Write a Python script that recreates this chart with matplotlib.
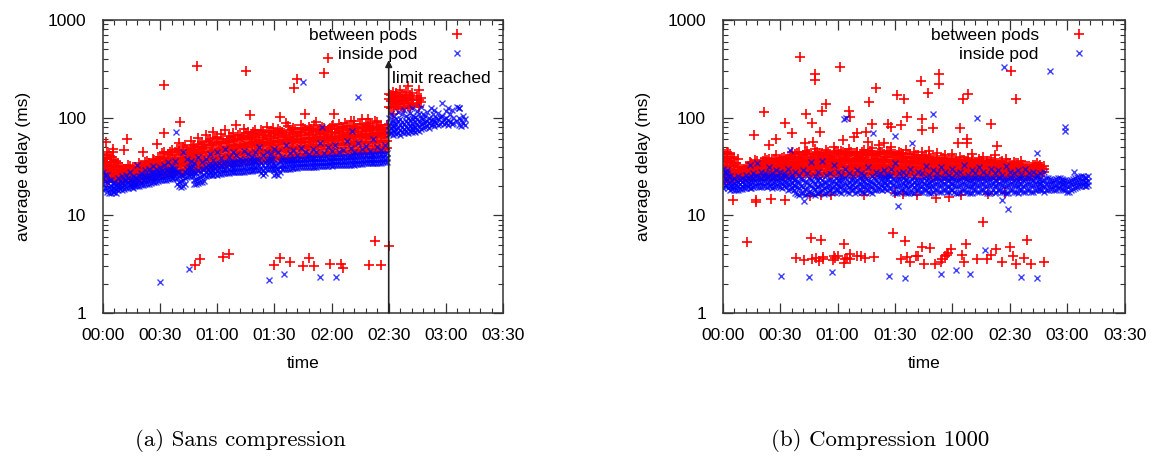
import matplotlib
matplotlib.use("Agg")
import matplotlib.pyplot as plt
from matplotlib.ticker import MultipleLocator, FuncFormatter, LogLocator, NullFormatter

# ---------------- data (minutes, ms) ----------------
series_names = ["between pods", "inside pod"]
x_tick_labels = ["00:00", "00:30", "01:00", "01:30", "02:00", "02:30", "03:00", "03:30"]
captions = ["(a) Sans compression", "(b) Compression 1000"]

# Panel (a) - between pods, dense band rows: (time, delays...)
p1_red_band = [
    (0, 24, 30, 36, 42, 27), (2, 22, 28, 33, 39, 45), (4, 25, 31, 35, 40, 28), (6, 23, 27, 30, 37, 33),
    (8, 22, 25, 29, 34, 26), (10, 23, 26, 28, 31, 24), (12, 24, 27, 30, 25, 29), (14, 23, 26, 28, 32, 25),
    (16, 24, 27, 29, 26, 31), (18, 22, 25, 28, 30, 27), (20, 24, 27, 30, 33, 26), (22, 25, 28, 31, 35, 29),
    (24, 24, 28, 30, 34, 27), (26, 26, 29, 33, 38, 31), (28, 25, 29, 32, 36, 30), (30, 27, 31, 35, 40, 33),
    (32, 26, 30, 34, 39, 45), (34, 28, 32, 36, 42, 30), (36, 27, 31, 35, 41, 47), (38, 28, 33, 37, 44, 31),
    (40, 29, 34, 39, 46, 55), (42, 27, 32, 38, 43, 50), (44, 29, 35, 40, 47, 33), (46, 30, 35, 41, 48, 58),
    (48, 28, 34, 39, 45, 52), (50, 31, 36, 42, 50, 62), (52, 30, 37, 43, 49, 56), (54, 32, 38, 44, 52, 66),
    (56, 31, 37, 45, 53, 60), (58, 33, 39, 46, 55, 72), (60, 32, 38, 45, 54, 63), (62, 34, 40, 47, 56, 68),
    (64, 33, 39, 46, 55, 75), (66, 35, 41, 48, 57, 65), (68, 34, 40, 47, 58, 70), (70, 36, 42, 49, 59, 85),
    (72, 35, 41, 50, 60, 67), (74, 37, 43, 51, 61, 76), (76, 36, 42, 50, 62, 72), (78, 37, 44, 52, 60, 68),
    (80, 38, 45, 53, 64, 74), (82, 36, 43, 51, 59, 66), (84, 38, 46, 54, 63, 71), (86, 37, 44, 52, 61, 80),
    (88, 39, 47, 55, 65, 73), (90, 38, 45, 53, 62, 69), (92, 40, 47, 56, 66, 77), (94, 38, 46, 54, 63, 72),
    (96, 40, 48, 57, 67, 88), (98, 39, 47, 55, 64, 74), (100, 41, 49, 58, 68, 78), (102, 40, 48, 56, 65, 71),
    (104, 42, 50, 59, 69, 84), (106, 41, 49, 57, 66, 75), (108, 42, 51, 60, 70, 80), (110, 41, 50, 58, 67, 73),
    (112, 43, 52, 61, 71, 90), (114, 42, 50, 59, 68, 76), (116, 43, 52, 60, 70, 79), (118, 42, 51, 59, 67, 74),
    (120, 44, 53, 62, 72, 82), (122, 43, 52, 60, 69, 77), (124, 45, 54, 63, 73, 86), (126, 44, 52, 61, 70, 78),
    (128, 45, 55, 64, 74, 83), (130, 44, 53, 62, 71, 92), (132, 46, 55, 64, 75, 80), (134, 45, 54, 63, 72, 79),
    (136, 46, 56, 65, 76, 98), (138, 45, 55, 63, 73, 84), (140, 47, 57, 66, 77, 88), (142, 46, 55, 64, 74, 81),
    (144, 47, 57, 67, 78, 90), (146, 46, 56, 65, 75, 85), (148, 48, 58, 68, 79, 70),
    (150, 130, 155, 175), (151, 125, 148, 170), (152, 140, 160, 185), (153, 128, 150, 165),
    (154, 135, 158, 178), (155, 122, 145, 168), (156, 138, 162, 190), (157, 130, 152, 172),
    (158, 127, 148, 165), (159, 140, 160, 182), (160, 132, 155, 210), (161, 125, 150, 170),
    (162, 138, 158, 180), (163, 135, 152), (165, 140, 165), (166, 130, 150, 190), (167, 145, 160),
]
p1_red_band_odd = [
    (1, 25, 29, 34, 38), (3, 23, 27, 32, 41), (5, 24, 29, 35, 44), (7, 22, 26, 31, 36), (9, 23, 25.5, 28, 32),
    (11, 22.5, 25, 27, 30), (13, 23.5, 26, 28.5, 33), (15, 24, 26.5, 29, 27.5), (17, 23, 25, 28, 31),
    (19, 24, 26, 29, 34), (21, 23.5, 26.5, 29.5, 32), (23, 24.5, 27, 30, 36), (25, 25, 28.5, 31, 33),
    (27, 25.5, 28, 32, 37), (29, 26, 30, 33, 38), (31, 26.5, 30, 34, 43), (33, 27, 31, 35, 38),
    (35, 27.5, 32, 36, 44), (37, 26.5, 30.5, 34, 39), (39, 28.5, 33, 38, 48), (41, 28, 33, 37, 42),
    (43, 28.5, 34, 39, 52), (45, 29.5, 34, 40, 45), (47, 29, 35, 41, 50), (49, 30, 36, 42, 47),
    (51, 30.5, 35.5, 43, 54), (53, 31, 37, 44, 50), (55, 31.5, 38, 45, 58), (57, 32, 38, 46, 53),
    (59, 32.5, 39, 47, 62), (61, 33, 40, 48, 56), (63, 33.5, 40, 49, 60), (65, 34, 41, 50, 58),
    (67, 34.5, 42, 51, 64), (69, 35, 42, 52, 61), (71, 35.5, 43, 52, 66), (73, 36, 44, 53, 63),
    (75, 36, 44, 54, 70), (77, 37, 45, 55, 65), (79, 37.5, 46, 56, 72), (81, 37, 45, 54, 68),
    (83, 38, 46, 56, 75), (85, 38.5, 47, 57, 66), (87, 38, 46, 55, 70), (89, 39, 48, 58, 78),
    (91, 39.5, 47, 57, 68), (93, 39, 48, 58, 73), (95, 40, 49, 59, 70), (97, 40.5, 49, 60, 82),
    (99, 40, 48, 58, 71), (101, 41, 50, 60, 76), (103, 41.5, 50, 61, 72), (105, 41, 51, 60, 79),
    (107, 42, 51, 62, 74), (109, 42.5, 52, 61, 77), (111, 42, 51, 62, 84), (113, 43, 52, 63, 75),
    (115, 43.5, 53, 63, 80), (117, 43, 52, 62, 73), (119, 44, 53, 64, 78), (121, 44.5, 54, 64, 85),
    (123, 44, 53, 63, 76), (125, 45, 54, 65, 80), (127, 45.5, 55, 66, 88), (129, 45, 54, 65, 77),
    (131, 46, 55, 66, 82), (133, 46.5, 56, 67, 79), (135, 46, 55, 66, 86), (137, 47, 56, 68, 80),
    (139, 47.5, 57, 67, 83), (141, 47, 56, 68, 78), (143, 48, 57, 69, 92), (145, 48.5, 58, 69, 81),
    (147, 48, 57, 68, 76), (149, 49, 58, 70, 84),
]
p1_red_out_t = [49.4, 32.2, 75.1, 118.1, 115.9, 101.9, 100.1, 121.1, 105.9, 93.1, 77.0, 139.0, 132.0,
                40.6, 31.9, 12.6, 1.4, 5.2, 28.4, 11.2, 21.0, 152.0,
                48.1, 51.1, 63.2, 66.2, 90.0, 92.9, 98.0, 105.0, 108.2, 111.0, 119.0, 124.8, 126.0,
                139.8, 145.8, 142.8, 150.0]
p1_red_out_v = [340, 217, 303, 405, 284, 251, 201, 110, 110, 102, 106, 96, 92,
                90, 69, 60, 57, 48, 54, 47, 45, 110,
                3.1, 3.6, 3.75, 4.0, 3.1, 3.7, 3.3, 3.0, 3.65, 3.05, 3.15, 3.2, 2.9,
                3.1, 3.1, 5.4, 4.9]

# Panel (a) - inside pod
p1_blue_band = [
    (0, 18, 21, 24, 28), (2, 17.5, 19, 22, 26), (4, 17, 18.5, 20, 23), (6, 17.5, 19, 21, 22),
    (8, 18, 19.5, 21, 24), (10, 18, 20, 22, 25), (12, 19, 21, 23, 26), (14, 19.5, 21, 23, 28),
    (16, 19, 20.5, 22, 25), (18, 20, 22, 24, 33), (20, 20.5, 22, 25, 27), (22, 21, 23, 25, 29),
    (24, 21, 23.5, 26, 30), (26, 22, 24, 27, 32), (28, 22, 24.5, 27, 30), (30, 23, 25, 28, 31),
    (32, 23, 25.5, 28, 33), (34, 23.5, 26, 29, 35), (36, 24, 26.5, 29, 32), (38, 24, 27, 30, 36),
    (40, 20, 22, 25, 28), (42, 20, 23, 26, 45), (44, 24.5, 27, 30, 38), (46, 25, 28, 31, 36),
    (48, 21, 23, 28, 34), (50, 21.5, 24, 29, 40), (52, 22, 25, 30, 35), (54, 25.5, 28, 31, 38),
    (56, 26, 28.5, 32, 42), (58, 26, 29, 32, 37), (60, 26, 29, 33, 44), (62, 26.5, 29.5, 33, 39),
    (64, 27, 30, 34, 48), (66, 27, 30, 34, 40), (68, 27.5, 30.5, 35, 45), (70, 28, 31, 35, 41),
    (72, 28, 31, 35, 38), (74, 28, 31.5, 36, 46), (76, 28.5, 32, 36, 42), (78, 28.5, 32, 36, 40),
    (80, 29, 32, 37, 44), (82, 29, 32.5, 37, 50), (84, 26, 29, 33, 41), (86, 29.5, 33, 37, 45),
    (88, 29.5, 33, 38, 42), (90, 26, 29, 33, 48), (92, 26, 30, 34, 44), (94, 30, 33, 37, 40),
    (96, 30, 33.5, 37, 52), (98, 30, 34, 37.5, 43), (100, 30.5, 34, 37.5, 47), (102, 30.5, 34, 37, 41),
    (104, 31, 34.5, 38, 49), (106, 31, 34.5, 38, 44), (108, 31, 35, 38.5, 42), (110, 31.5, 35, 38.5, 48),
    (112, 31.5, 35, 39, 45), (114, 32, 35, 39, 55), (116, 32, 35.5, 39, 43), (118, 32, 35.5, 39, 50),
    (120, 32, 36, 39.5, 46), (122, 32.5, 36, 39.5, 52), (124, 32.5, 36, 40, 44), (126, 33, 36, 40, 47),
    (128, 33, 36.5, 40, 58), (130, 33, 36.5, 40.5, 49), (132, 33, 37, 40.5, 45), (134, 33.5, 37, 41, 55),
    (136, 33.5, 37, 41, 48), (138, 34, 37, 41, 51), (140, 34, 37.5, 41.5, 46), (142, 34, 38, 41.5, 60),
    (144, 34, 38, 42, 50), (146, 34.5, 38, 42, 47), (148, 35, 38, 42, 52),
    (150, 68, 75, 85, 100), (151, 70, 78, 90, 110), (152, 66, 74, 82, 95), (153, 72, 80, 88, 105),
    (154, 68, 76, 86, 98), (155, 70, 79, 92, 115), (156, 67, 75, 84, 96), (157, 71, 80, 90, 108),
    (158, 69, 77, 87, 120), (159, 72, 81, 93, 104), (160, 70, 78, 88, 100), (161, 73, 82, 95, 112),
    (162, 71, 79, 89, 125), (163, 74, 83, 96, 105), (164, 72, 80, 90, 102), (165, 75, 84, 98, 118),
    (166, 73, 82, 92, 108), (167, 76, 86, 100, 130), (168, 78, 88, 97, 110), (169, 80, 90, 104),
    (170, 82, 92, 115), (171, 79, 88, 100), (172, 84, 95, 125), (173, 86, 98, 108), (174, 83, 93, 120),
    (175, 88, 100), (176, 85, 96, 112), (177, 87, 102), (178, 90, 105, 140), (179, 86, 98),
    (180, 88, 100, 118), (181, 85, 95, 125), (182, 90, 108), (183, 86, 120), (184, 88, 100),
    (186, 92, 130), (187, 85, 100, 125), (188, 82, 95), (189, 88, 105), (190, 85, 97),
]
p1_blue_band_odd = [
    (1, 19, 22.5, 26), (3, 17, 19.5, 23), (5, 17.5, 19, 21.5), (7, 17, 18.5, 20.5), (9, 18.5, 20, 22.5),
    (11, 18.5, 20.5, 23), (13, 19, 21.5, 24), (15, 19.5, 21.5, 23.5), (17, 20, 21.5, 24), (19, 20, 22.5, 25),
    (21, 20.5, 23, 25.5), (23, 21, 23.5, 26), (25, 21.5, 24, 27), (27, 22, 24.5, 27.5), (29, 22.5, 25, 28),
    (31, 23, 25.5, 28.5), (33, 23, 26, 29), (35, 23.5, 26.5, 29.5), (37, 24, 27, 30), (39, 21, 24, 28),
    (41, 19.5, 22.5, 26), (43, 21, 24, 27.5), (45, 25, 27.5, 31), (47, 25, 28, 32), (49, 21, 23.5, 27),
    (51, 22, 24.5, 28), (53, 22.5, 26, 30), (55, 26, 29, 32.5), (57, 26, 29, 33), (59, 26.5, 29.5, 33.5),
    (61, 26.5, 30, 34), (63, 27, 30, 34.5), (65, 27, 30.5, 35), (67, 27.5, 31, 35), (69, 28, 31, 35.5),
    (71, 28, 31.5, 36), (73, 28, 31.5, 36), (75, 28.5, 32, 36.5), (77, 28.5, 32, 37), (79, 29, 32.5, 37),
    (81, 29, 33, 37.5), (83, 27, 30, 34), (85, 27, 30.5, 35), (87, 29.5, 33.5, 38), (89, 29.5, 33.5, 38),
    (91, 26.5, 29.5, 33), (93, 28, 31.5, 36), (95, 30, 33, 36.5), (97, 30, 33.5, 37), (99, 30.5, 34, 37),
    (101, 30.5, 34, 37.5), (103, 31, 34.5, 38), (105, 31, 34.5, 38), (107, 31, 35, 38.5), (109, 31.5, 35, 38.5),
    (111, 31.5, 35, 39), (113, 32, 35.5, 39), (115, 32, 35.5, 39), (117, 32, 35.5, 39.5), (119, 32.5, 36, 39.5),
    (121, 32.5, 36, 40), (123, 32.5, 36, 40), (125, 33, 36.5, 40), (127, 33, 36.5, 40.5), (129, 33, 36.5, 40.5),
    (131, 33.5, 37, 41), (133, 33.5, 37, 41), (135, 33.5, 37, 41), (137, 34, 37.5, 41.5), (139, 34, 37.5, 41.5),
    (141, 34, 37.5, 42), (143, 34.5, 38, 42), (145, 34.5, 38, 42), (147, 35, 38.5, 42.5), (149, 35, 38.5, 43),
]
p1_blue_out_t = [105.0, 134.0, 38.2, 115.0, 130.6, 187.0,
                 30.1, 45.2, 87.2, 95.0, 114.1, 122.2]
p1_blue_out_v = [230, 161, 72, 80, 73, 125,
                 2.1, 2.8, 2.2, 2.5, 2.35, 2.33]

# Panel (b) - between pods
p2_red_band = [
    (0, 22, 27, 33, 40, 45), (2, 23, 26, 31, 38, 44), (4, 24, 28, 34, 42, 36), (6, 23, 26, 29, 33, 40),
    (8, 24, 26, 28, 31, 38), (10, 24, 26, 28, 30, 27), (12, 25, 27, 29, 31, 26), (14, 24, 26, 28, 30, 35),
    (16, 25, 27, 29, 32, 28), (18, 25, 27, 30, 33, 36), (20, 25, 28, 31, 34, 29), (22, 26, 28, 31, 35, 39),
    (24, 25, 28, 30, 34, 38), (26, 26, 29, 32, 36, 30), (28, 25, 28, 31, 35, 41), (30, 26, 29, 32, 37, 34),
    (32, 25, 28, 31, 36, 40), (34, 26, 29, 33, 38, 30), (36, 27, 30, 34, 39, 44), (38, 26, 29, 33, 38, 42),
    (40, 27, 30, 34, 40, 45), (42, 26, 30, 35, 41, 32), (44, 27, 31, 35, 42, 46), (46, 26, 30, 34, 40, 37),
    (48, 27, 31, 36, 42, 48), (50, 26, 30, 35, 41, 33), (52, 27, 32, 36, 43, 40), (54, 27, 31, 35, 42, 47),
    (56, 26, 30, 35, 41, 38), (58, 27, 31, 36, 43, 50), (60, 27, 32, 37, 44, 34), (62, 26, 31, 36, 42, 46),
    (64, 27, 32, 37, 43, 39), (66, 27, 31, 36, 42, 48), (68, 26, 30, 35, 41, 33), (70, 27, 32, 37, 44, 45),
    (72, 27, 31, 36, 42, 39), (74, 26, 30, 35, 41, 47), (76, 27, 32, 37, 43, 34), (78, 27, 31, 36, 42, 49),
    (80, 26, 30, 35, 41, 38), (82, 27, 32, 37, 44, 45), (84, 27, 31, 36, 42, 35), (86, 26, 30, 35, 40, 46),
    (88, 27, 32, 37, 43, 50), (90, 27, 31, 36, 42, 33), (92, 26, 30, 35, 41, 44), (94, 27, 31, 36, 42, 38),
    (96, 26, 30, 35, 40, 47), (98, 27, 31, 36, 42, 34), (100, 26, 30, 34, 40, 44), (102, 27, 31, 35, 41, 37),
    (104, 26, 30, 34, 39, 45), (106, 27, 30, 35, 41, 33), (108, 26, 29, 34, 40, 46), (110, 26, 30, 34, 39, 36),
    (112, 25, 29, 33, 38, 43), (114, 26, 30, 34, 39, 35), (116, 25, 29, 33, 38, 41), (118, 26, 29, 33, 38, 31),
    (120, 25, 28, 32, 37, 42), (122, 26, 29, 33, 37, 35), (124, 25, 28, 32, 36, 40), (126, 26, 29, 32, 37, 30),
    (128, 25, 28, 32, 36, 39), (130, 26, 29, 32, 36, 42), (132, 25, 28, 31, 35, 33), (134, 26, 29, 32, 36, 38),
    (136, 25, 28, 31, 35, 40), (138, 26, 29, 32, 36, 34), (140, 25, 28, 31, 35, 37), (142, 26, 29, 32, 36, 41),
    (144, 25, 28, 31, 34, 30), (146, 26, 28, 31, 35, 36), (148, 25, 28, 30, 34, 38), (150, 26, 28, 31, 34, 32),
    (152, 25, 28, 30, 33, 35), (154, 26, 28, 31, 34, 29), (156, 25, 27, 30, 33, 36), (158, 26, 28, 30, 32),
    (160, 25, 27, 29, 32), (162, 26, 28, 30, 33), (164, 27, 29, 31, 34), (166, 27, 29, 31, 33), (168, 28, 30, 32),
]
p2_red_band_odd = [
    (1, 23, 28, 35, 42), (3, 24, 29, 36, 43), (5, 23, 27, 32, 39), (7, 24, 26.5, 29, 34), (9, 24.5, 26, 28.5, 31),
    (11, 24, 26.5, 29, 30), (13, 24.5, 27, 28.5, 32), (15, 25, 27, 29.5, 34), (17, 24.5, 27.5, 30, 37),
    (19, 25, 28, 31, 33), (21, 25.5, 28.5, 32, 36), (23, 25, 28, 31.5, 37), (25, 26, 29, 32, 35),
    (27, 25.5, 28.5, 33, 38), (29, 26, 29.5, 33, 36), (31, 25.5, 29, 32.5, 39), (33, 26, 30, 34, 37),
    (35, 26.5, 30.5, 35, 41), (37, 26, 30, 34.5, 40), (39, 27, 31, 35, 43), (41, 26.5, 31, 36, 39),
    (43, 27, 31.5, 36.5, 44), (45, 26.5, 31, 35.5, 42), (47, 27, 32, 37, 40), (49, 26.5, 31.5, 36, 45),
    (51, 27, 32, 37.5, 43), (53, 26.5, 31, 36, 41), (55, 27.5, 32.5, 38, 44), (57, 26.5, 31, 36.5, 40),
    (59, 27, 32, 37, 46), (61, 27.5, 32.5, 38, 42), (63, 26.5, 31.5, 36, 44), (65, 27, 32, 37.5, 41),
    (67, 26.5, 31, 36, 45), (69, 27, 32.5, 38, 43), (71, 27.5, 32, 37, 40), (73, 26.5, 31, 36.5, 44),
    (75, 27, 32, 37, 42), (77, 26.5, 31.5, 36.5, 46), (79, 27, 31, 36, 41), (81, 27.5, 32.5, 37.5, 43),
    (83, 26.5, 31, 36, 45), (85, 27, 32, 37, 40), (87, 26.5, 31.5, 36.5, 44), (89, 27, 31, 36, 42),
    (91, 26.5, 31.5, 36.5, 41), (93, 27, 31, 35.5, 43), (95, 26.5, 30.5, 35, 40), (97, 27, 31, 36, 42),
    (99, 26.5, 30.5, 35, 39), (101, 26, 30, 34.5, 41), (103, 26.5, 30.5, 35, 38), (105, 26, 30, 34, 40),
    (107, 26.5, 29.5, 34, 37), (109, 26, 30, 34.5, 39), (111, 25.5, 29.5, 33.5, 38), (113, 26, 29, 33, 37),
    (115, 25.5, 29.5, 33.5, 39), (117, 26, 29, 33, 36), (119, 25.5, 28.5, 32.5, 37), (121, 26, 29, 33, 38),
    (123, 25.5, 28.5, 32, 35), (125, 26, 29, 32.5, 37), (127, 25.5, 28.5, 32, 36), (129, 26, 29, 32.5, 34),
    (131, 25.5, 28.5, 32, 37), (133, 26, 29, 32, 35), (135, 25.5, 28.5, 31.5, 36), (137, 26, 29, 32, 34),
    (139, 25.5, 28.5, 31.5, 36), (141, 26, 29, 32, 35), (143, 25.5, 28.5, 31, 34), (145, 26, 28.5, 31.5, 35),
    (147, 25.5, 28, 31, 33), (149, 26, 28.5, 31, 34), (151, 25.5, 28, 30.5, 33), (153, 26, 28, 30.5, 34),
    (155, 25.5, 27.5, 30, 32), (157, 26, 28, 30.5, 33), (159, 25.5, 27.5, 30, 32), (161, 26, 28, 30, 31),
    (163, 26.5, 28.5, 30.5, 33), (165, 27, 29, 31, 32), (167, 27.5, 29.5, 31.5),
]
p2_red_out_t = [40.3, 48.0, 48.0, 61.2, 80.3, 113.1, 113.1, 103.5, 107.2, 91.2, 94.9, 125.6, 128.4,
                150.5, 153.3, 54.2, 52.1, 66.0, 66.7, 21.6, 43.5, 76.3, 46.4, 32.6, 36.3, 16.2, 28.0,
                24.3, 78.1, 86.6, 87.9, 93.2, 96.4, 103.9, 110.0, 103.9, 123.8, 140.0, 143.1, 127.5,
                127.5, 122.9, 74.6, 68.5, 50.8, 63.0, 70.4, 75.9, 81.4, 84.0, 64.8, 43.1, 47.4,
                5.5, 17.5, 17.5, 25.4, 32.4, 45.5, 51.6, 56.6, 74.0, 90.0, 94.3, 101.7, 111.3,
                118.3, 124.7, 147.7, 138.5,
                12.5, 38.3, 42.5, 46.3, 46.5, 48.7, 50.1, 51.3, 52.2, 52.6, 57.8, 58.1, 58.8, 60.4,
                63.2, 63.4, 63.7, 64.8, 66.3, 66.5, 70.0, 72.2, 74.2, 79.2, 89.1, 93.0, 95.1, 96.1,
                98.0, 101.0, 102.2, 104.1, 105.3, 108.3, 111.1, 113.9, 114.7, 116.1, 117.2, 117.9,
                119.1, 125.2, 126.0, 126.9, 132.8, 135.8, 137.9, 140.0, 142.8, 145.9, 150.1, 151.8,
                153.0, 157.6, 159.1, 161.0, 167.8]
p2_red_out_v = [421, 280, 243, 333, 201, 280, 219, 239, 177, 170, 157, 154, 173,
                298, 157, 138, 117, 117, 102, 115, 108, 146, 89, 89, 70, 67, 61,
                52, 87, 87, 80, 85, 102, 97, 78, 75, 79, 87, 51.5, 61,
                55, 55, 72, 64, 71, 59, 69, 56, 52, 55, 43, 55, 56,
                14.5, 14.5, 13.7, 14.7, 14.2, 15.6, 16.2, 16.0, 16.0, 16.8, 16.5, 16.0, 14.9,
                15.5, 16.0, 17.0, 16.5,
                5.35, 3.7, 3.52, 5.84, 3.55, 3.7, 3.4, 5.56, 3.75, 3.55, 3.52, 3.85, 3.7, 3.85,
                5.1, 3.28, 3.6, 3.7, 4.06, 3.6, 3.85, 3.8, 3.65, 3.75, 6.6, 3.6, 5.5, 3.75,
                3.3, 3.8, 3.8, 4.75, 3.18, 4.6, 3.2, 3.3, 3.6, 3.8, 3.95, 4.1,
                4.5, 3.95, 3.3, 5.1, 3.55, 8.5, 3.55, 3.95, 4.5, 3.3, 4.75, 3.8,
                3.2, 3.65, 5.56, 3.2, 3.3]

# Panel (b) - inside pod
p2_blue_band = [
    (0, 19, 22, 26, 30), (2, 20, 23, 27, 29), (4, 18, 20, 22, 25), (6, 18, 19.5, 21, 24),
    (8, 18, 20, 22, 25), (10, 18.5, 20, 22, 24), (12, 19, 21, 23, 26), (14, 19, 21, 24, 33),
    (16, 19.5, 22, 24, 27), (18, 20, 22, 25, 34), (20, 19.5, 22, 24, 28), (22, 20, 22.5, 25, 27),
    (24, 20, 22, 25, 31), (26, 19, 21.5, 24, 27), (28, 20, 22.5, 25, 29), (30, 19.5, 22, 24, 28),
    (32, 20, 22, 25, 27), (34, 18, 21, 24, 30), (36, 19, 21.5, 24, 26), (38, 17, 20, 23, 28),
    (40, 16, 19, 22, 26), (42, 17, 19.5, 23, 29), (44, 16.5, 19, 22, 27), (46, 17, 20, 23, 35),
    (48, 16, 18.5, 21, 25), (50, 17, 20, 23, 28), (52, 18, 20.5, 23, 36), (54, 17, 19.5, 22, 26),
    (56, 18, 20, 23, 27), (58, 17.5, 20, 22.5, 33), (60, 18, 20.5, 23, 28), (62, 17, 20, 23, 26),
    (64, 18, 21, 24, 30), (66, 17, 19.5, 22, 27), (68, 18, 20.5, 23, 25), (70, 17.5, 20, 23, 29),
    (72, 18, 21, 24, 27), (74, 17, 20, 22.5, 26), (76, 18, 20.5, 23, 31), (78, 17, 19.5, 22, 25),
    (80, 18, 20.5, 23, 28), (82, 18.5, 21, 24, 27), (84, 19, 21.5, 24, 29), (86, 18, 21, 24, 26),
    (88, 19, 22, 25, 30), (90, 17, 20, 23, 34), (92, 17.5, 20.5, 23.5, 27), (94, 18, 21, 24, 28),
    (96, 17, 20, 23, 26), (98, 17.5, 20, 22.5, 30), (100, 17, 19.5, 22, 25), (102, 18, 20.5, 23, 28),
    (104, 17.5, 20, 22.5, 27), (106, 18, 20.5, 23, 32), (108, 17, 19.5, 22, 26), (110, 17.5, 20, 23, 29),
    (112, 18, 21, 24, 27), (114, 17.5, 20.5, 23, 31), (116, 18, 21, 24, 28), (118, 17.5, 20, 23, 26),
    (120, 18, 21, 24, 30), (122, 17, 20, 23, 27), (124, 17.5, 20.5, 23.5, 28), (126, 18, 21, 24, 33),
    (128, 17.5, 20, 23, 26), (130, 17, 20, 23, 29), (132, 18, 21, 24, 27), (134, 17.5, 20.5, 23.5, 31),
    (136, 18, 21, 24, 28), (138, 17, 20, 23, 26), (140, 17.5, 20.5, 23.5, 30), (142, 17, 20, 23, 27),
    (144, 18, 21, 24, 29), (146, 17.5, 20.5, 23, 26), (148, 17, 20, 23, 32), (150, 18, 21, 24, 28),
    (152, 17.5, 20.5, 23, 27), (154, 17, 20, 23, 29), (156, 18, 21, 24, 26), (158, 17.5, 20.5, 23.5, 30),
    (160, 18, 21, 24, 27), (162, 17.5, 20.5, 23, 28), (164, 18, 21, 24, 26), (166, 18, 21, 23.5, 27),
    (168, 17.5, 20, 23, 28), (170, 18, 21, 24), (172, 18.5, 21, 23), (174, 18, 20.5, 23.5),
    (176, 19, 21.5, 24), (178, 18, 21, 23), (180, 17.5, 20, 22.5), (182, 18, 21, 23),
    (184, 19, 21.5, 24), (186, 20, 22, 24.5), (188, 20.5, 22.5, 25), (190, 20, 22, 24),
]
p2_blue_band_odd = [
    (1, 20, 24, 28), (3, 19, 21.5, 25), (5, 18.5, 20, 23), (7, 18, 20.5, 22.5), (9, 18.5, 21, 23),
    (11, 19, 21, 23.5), (13, 19.5, 21.5, 24), (15, 19, 22, 25), (17, 20, 22.5, 25), (19, 19.5, 22, 24.5),
    (21, 20, 22.5, 25.5), (23, 19.5, 22, 24.5), (25, 20, 23, 26), (27, 19.5, 22, 24.5), (29, 20, 22.5, 25.5),
    (31, 19, 21.5, 24), (33, 19.5, 22, 25), (35, 18.5, 21, 23.5), (37, 18, 20.5, 23), (39, 16.5, 19.5, 22.5),
    (41, 17, 20, 23.5), (43, 16, 18.5, 22), (45, 17.5, 20.5, 24), (47, 16.5, 19, 22.5), (49, 17, 19.5, 23),
    (51, 17.5, 20.5, 24), (53, 16.5, 19, 22), (55, 17.5, 20, 23), (57, 17, 19.5, 22.5), (59, 18, 21, 24),
    (61, 17.5, 20, 23), (63, 18, 20.5, 23.5), (65, 17.5, 20.5, 23.5), (67, 18, 20, 23), (69, 17, 19.5, 22.5),
    (71, 18, 21, 24), (73, 17.5, 20, 23), (75, 18, 20.5, 23.5), (77, 17.5, 20, 22.5), (79, 18, 21, 24),
    (81, 18.5, 21.5, 24.5), (83, 18, 21, 24), (85, 18.5, 21.5, 24.5), (87, 19, 22, 25), (89, 17.5, 20.5, 23.5),
    (91, 17, 20, 23), (93, 18, 20.5, 23.5), (95, 17.5, 20.5, 23), (97, 17, 19.5, 22.5), (99, 17.5, 20.5, 23.5),
    (101, 18, 20.5, 23), (103, 17.5, 20, 23), (105, 18, 21, 24), (107, 17.5, 20.5, 23.5), (109, 17, 20, 22.5),
    (111, 18, 21, 24), (113, 17.5, 20.5, 23.5), (115, 18, 21, 24), (117, 17.5, 20, 23), (119, 18, 21, 24),
    (121, 17.5, 20.5, 23.5), (123, 17, 20, 23), (125, 18, 21, 24), (127, 17.5, 20.5, 23.5), (129, 17, 20, 23),
    (131, 18, 21, 24), (133, 17.5, 20.5, 23.5), (135, 18, 21, 24), (137, 17.5, 20, 23), (139, 17, 20.5, 23.5),
    (141, 18, 21, 24), (143, 17.5, 20.5, 23), (145, 18, 21, 24), (147, 17.5, 20, 23), (149, 17, 20.5, 23.5),
    (151, 18, 21, 24), (153, 17.5, 20.5, 23.5), (155, 18, 21, 24), (157, 17.5, 20, 23), (159, 18, 21, 24),
    (161, 17.5, 20.5, 23.5), (163, 18, 21, 24), (165, 18.5, 21, 23.5), (167, 18, 20.5, 23), (169, 18, 21, 24),
    (171, 18.5, 21, 23.5), (173, 18, 20.5, 23), (175, 19, 21.5, 24), (177, 18.5, 21, 23.5), (179, 18, 20.5, 23),
    (181, 17.5, 20, 22.5), (183, 18.5, 21, 23.5), (185, 19.5, 22, 24.5), (187, 20, 22.5, 25), (189, 20, 22, 24.5),
    (191, 20.5, 22.5, 25),
]
p2_blue_out_t = [147.2, 170.8, 179.0, 179.0, 133.0, 64.3, 63.6, 110.0, 78.3, 90.1, 98.9, 35.4, 164.0,
                 145.9, 149.0, 91.6, 42.4, 183.7,
                 30.3, 45.3, 57.3, 87.0, 95.1, 114.0, 122.1, 129.0, 137.1, 156.0, 164.1]
p2_blue_out_v = [333, 303, 81, 73, 100, 100, 96, 108, 69, 65, 55, 47, 43,
                 14.5, 11.7, 12.4, 14.0, 27.5,
                 2.39, 2.34, 2.63, 2.39, 2.29, 2.5, 2.74, 2.5, 4.4, 2.34, 2.3]

limit_time = 150
limit_top = 390


def flatten(row_sets, extra_t, extra_v):
    t, v = [], []
    for rows in row_sets:
        for row in rows:
            for y in row[1:]:
                t.append(row[0])
                v.append(y)
    return t + list(extra_t), v + list(extra_v)


# ---------------- figure ----------------
SANS = ["Liberation Sans", "DejaVu Sans"]
FS = 12.5
plt.rcParams["font.family"] = SANS
W, H = 1153, 458
fig = plt.figure(figsize=(W / 100, H / 100), dpi=100)

panels = [
    (103, 503, 240, [p1_red_band, p1_red_band_odd], p1_red_out_t, p1_red_out_v,
     [p1_blue_band, p1_blue_band_odd], p1_blue_out_t, p1_blue_out_v),
    (722.7, 1124.7, 880, [p2_red_band, p2_red_band_odd], p2_red_out_t, p2_red_out_v,
     [p2_blue_band, p2_blue_band_odd], p2_blue_out_t, p2_blue_out_v),
]
top_px, bot_px = 20, 313


def fmt_time(x, pos):
    m = int(round(x))
    return "%02d:%02d" % (m // 60, m % 60)


axes = []
for i, (l, r, cap_x, rb, rot, rov, bb, bot_t, bov) in enumerate(panels):
    ax = fig.add_axes([l / W, 1 - bot_px / H, (r - l) / W, (bot_px - top_px) / H])
    axes.append(ax)
    rt, rv = flatten(rb, rot, rov)
    bt, bv = flatten(bb, bot_t, bov)
    ax.plot(rt, rv, linestyle="none", marker="+", color="#ff0000", markersize=6.5,
            markeredgewidth=1.2, label=series_names[0])
    ax.plot(bt, bv, linestyle="none", marker="x", color="#0000ff", markersize=4.8,
            markeredgewidth=1.0, alpha=0.75, label=series_names[1])
    ax.set_yscale("log")
    ax.set_xlim(0, 210)
    ax.set_ylim(1, 1000)
    ax.xaxis.set_major_locator(MultipleLocator(30))
    ax.xaxis.set_minor_locator(MultipleLocator(6))
    ax.xaxis.set_major_formatter(FuncFormatter(fmt_time))
    ax.yaxis.set_major_locator(LogLocator(base=10, numticks=10))
    ax.yaxis.set_minor_locator(LogLocator(base=10, subs=range(2, 10), numticks=20))
    ax.yaxis.set_minor_formatter(NullFormatter())
    ax.yaxis.set_major_formatter(FuncFormatter(lambda y, p: "%d" % round(y)))
    ax.tick_params(which="both", direction="in", top=True, right=True, labelsize=FS, color="#333333")
    ax.tick_params(which="major", length=7, width=0.9)
    ax.tick_params(which="minor", length=3.5, width=0.8)
    ax.tick_params(axis="x", which="major", pad=11)
    ax.tick_params(axis="y", which="major", pad=12)
    for s in ax.spines.values():
        s.set_linewidth(1.1)
        s.set_color("#333333")
    ax.set_xlabel("time", fontsize=FS, labelpad=9)
    ax.set_ylabel("average delay (ms)", fontsize=FS, labelpad=12)
    ax.legend(loc="upper right", bbox_to_anchor=(0.92, 0.972), markerfirst=False, frameon=False,
              fontsize=FS, borderaxespad=0, borderpad=0, handlelength=1.6, handletextpad=1.5,
              labelspacing=0.2, markerscale=1.0)
    fig.text(cap_x / W, 1 - 441 / H, captions[i], ha="center", va="center",
             fontsize=16.5, family="cmr10")

ax0 = axes[0]
ax0.annotate("", xy=(limit_time, limit_top), xytext=(limit_time, 1),
             arrowprops=dict(arrowstyle="-|>", color="#222222", lw=1.2, mutation_scale=10,
                             shrinkA=0, shrinkB=0))
ax0.text(limit_time + 1.5, 249, "limit reached", ha="left", va="center", fontsize=FS)

fig.savefig("out.png", dpi=100)
